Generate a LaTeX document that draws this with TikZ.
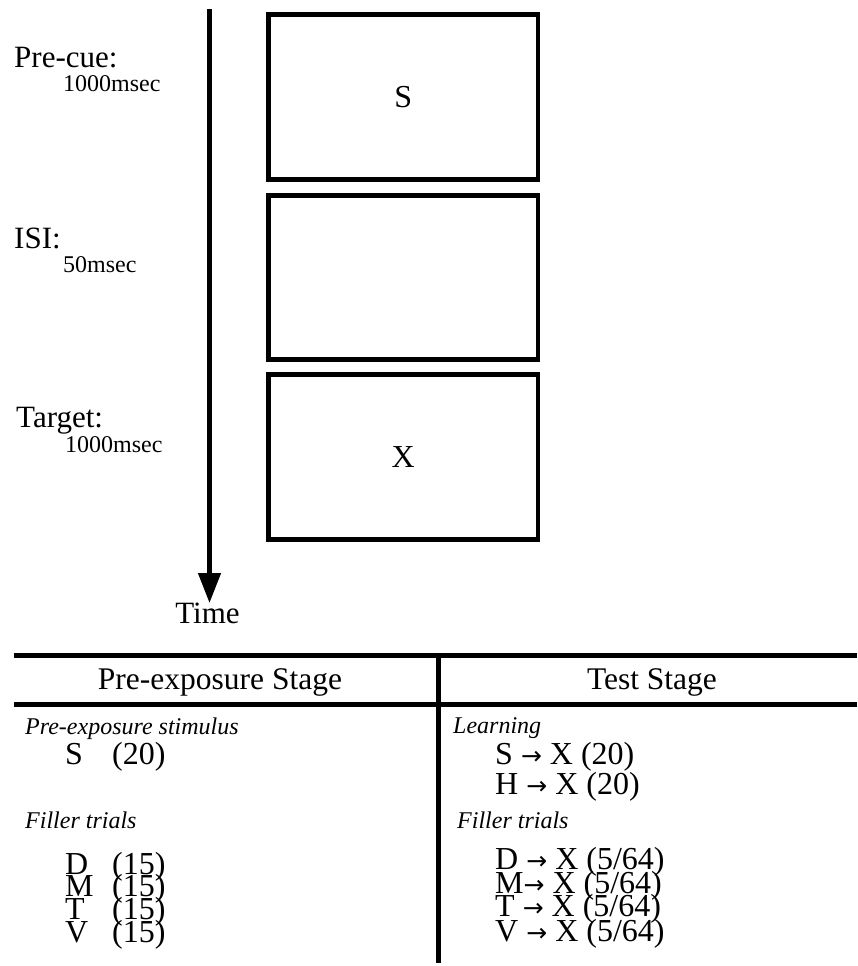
\documentclass[tikz,border=0pt]{standalone}
\usepackage{fontspec}
\setmainfont{Liberation Serif}
\newfontfamily\arrfont{DejaVu Sans}
\usetikzlibrary{arrows.meta}
\newcommand{\ra}{{\arrfont\fontsize{25}{25}\selectfont →}}
\tikzset{
  lbl/.style={font=\fontsize{31}{31}\selectfont, anchor=base west, inner sep=0pt},
  sublbl/.style={font=\fontsize{24}{24}\selectfont, anchor=base west, inner sep=0pt},
  stimbox/.style={draw, line width=4.5pt, minimum width=269.5pt, minimum height=165pt, inner sep=0pt, font=\fontsize{32}{32}\selectfont},
  tablerule/.style={line width=5pt},
  hdr/.style={font=\fontsize{31.5}{31.5}\selectfont, anchor=base, inner sep=0pt},
  cat/.style={font=\fontsize{24}{24}\selectfont\itshape, anchor=base west, inner sep=0pt},
  entry/.style={font=\fontsize{32}{32}\selectfont, anchor=base west, inner sep=0pt}
}
\begin{document}
\begin{tikzpicture}[x=1pt,y=-1pt]
\useasboundingbox (0,0) rectangle (857,966);
% timeline labels
\node[lbl] (precue) at (14,67) {Pre-cue:};
\node[sublbl] (precuet) at (63,91) {1000msec};
\node[lbl] (isi) at (14,248) {ISI:};
\node[sublbl] (isit) at (63,272) {50msec};
\node[lbl] (target) at (16,427) {Target:};
\node[sublbl] (targett) at (65,452) {1000msec};
% time arrow
\coordinate (tstart) at (209.5,9);
\coordinate (tend) at (209.5,603);
\draw[line width=4.5pt, -{Triangle[width=22pt,length=30pt]}] (tstart) -- (tend);
\node[lbl, anchor=base] (time) at (207.5,623) {Time};
% stimulus boxes
\node[stimbox] (box1) at (403.25,97) {S};
\node[stimbox, minimum height=164pt] (box2) at (403.25,277.5) {};
\node[stimbox] (box3) at (403.25,457) {X};
% table
\coordinate (r1a) at (14,655.5);
\coordinate (r1b) at (857,655.5);
\coordinate (r2a) at (14,704);
\coordinate (r2b) at (857,704);
\coordinate (va) at (438,655.5);
\coordinate (vb) at (438,963);
\draw[tablerule] (r1a) -- (r1b);
\draw[tablerule] (r2a) -- (r2b);
\draw[tablerule] (va) -- (vb);
\node[hdr] (h1) at (220,689) {Pre-exposure Stage};
\node[hdr] (h2) at (652,689) {Test Stage};
% left column
\node[cat] (c1) at (25,734) {Pre-exposure stimulus};
\node[entry] (s1) at (65,764) {S};
\node[entry] (s1n) at (112,764) {(20)};
\node[cat] (c2) at (25,828) {Filler trials};
\node[entry] (f1) at (65,874) {D};
\node[entry] (f1n) at (112,874) {(15)};
\node[entry] (f2) at (65,896) {M};
\node[entry] (f2n) at (112,896) {(15)};
\node[entry] (f3) at (65,919) {T};
\node[entry] (f3n) at (112,919) {(15)};
\node[entry] (f4) at (65,942) {V};
\node[entry] (f4n) at (112,942) {(15)};
% right column
\node[cat] (c3) at (453,733) {Learning};
\node[entry] (l1) at (495,764) {S \ra{} X (20)};
\node[entry] (l2) at (495,794) {H \ra{} X (20)};
\node[cat] (c4) at (457,828) {Filler trials};
\node[entry] (g1) at (495,869) {D \ra{} X (5/64)};
\node[entry] (g2) at (495,893) {M\ra{} X (5/64)};
\node[entry] (g3) at (495,916) {T \ra{} X (5/64)};
\node[entry] (g4) at (495,941) {V \ra{} X (5/64)};
\end{tikzpicture}
\end{document}
